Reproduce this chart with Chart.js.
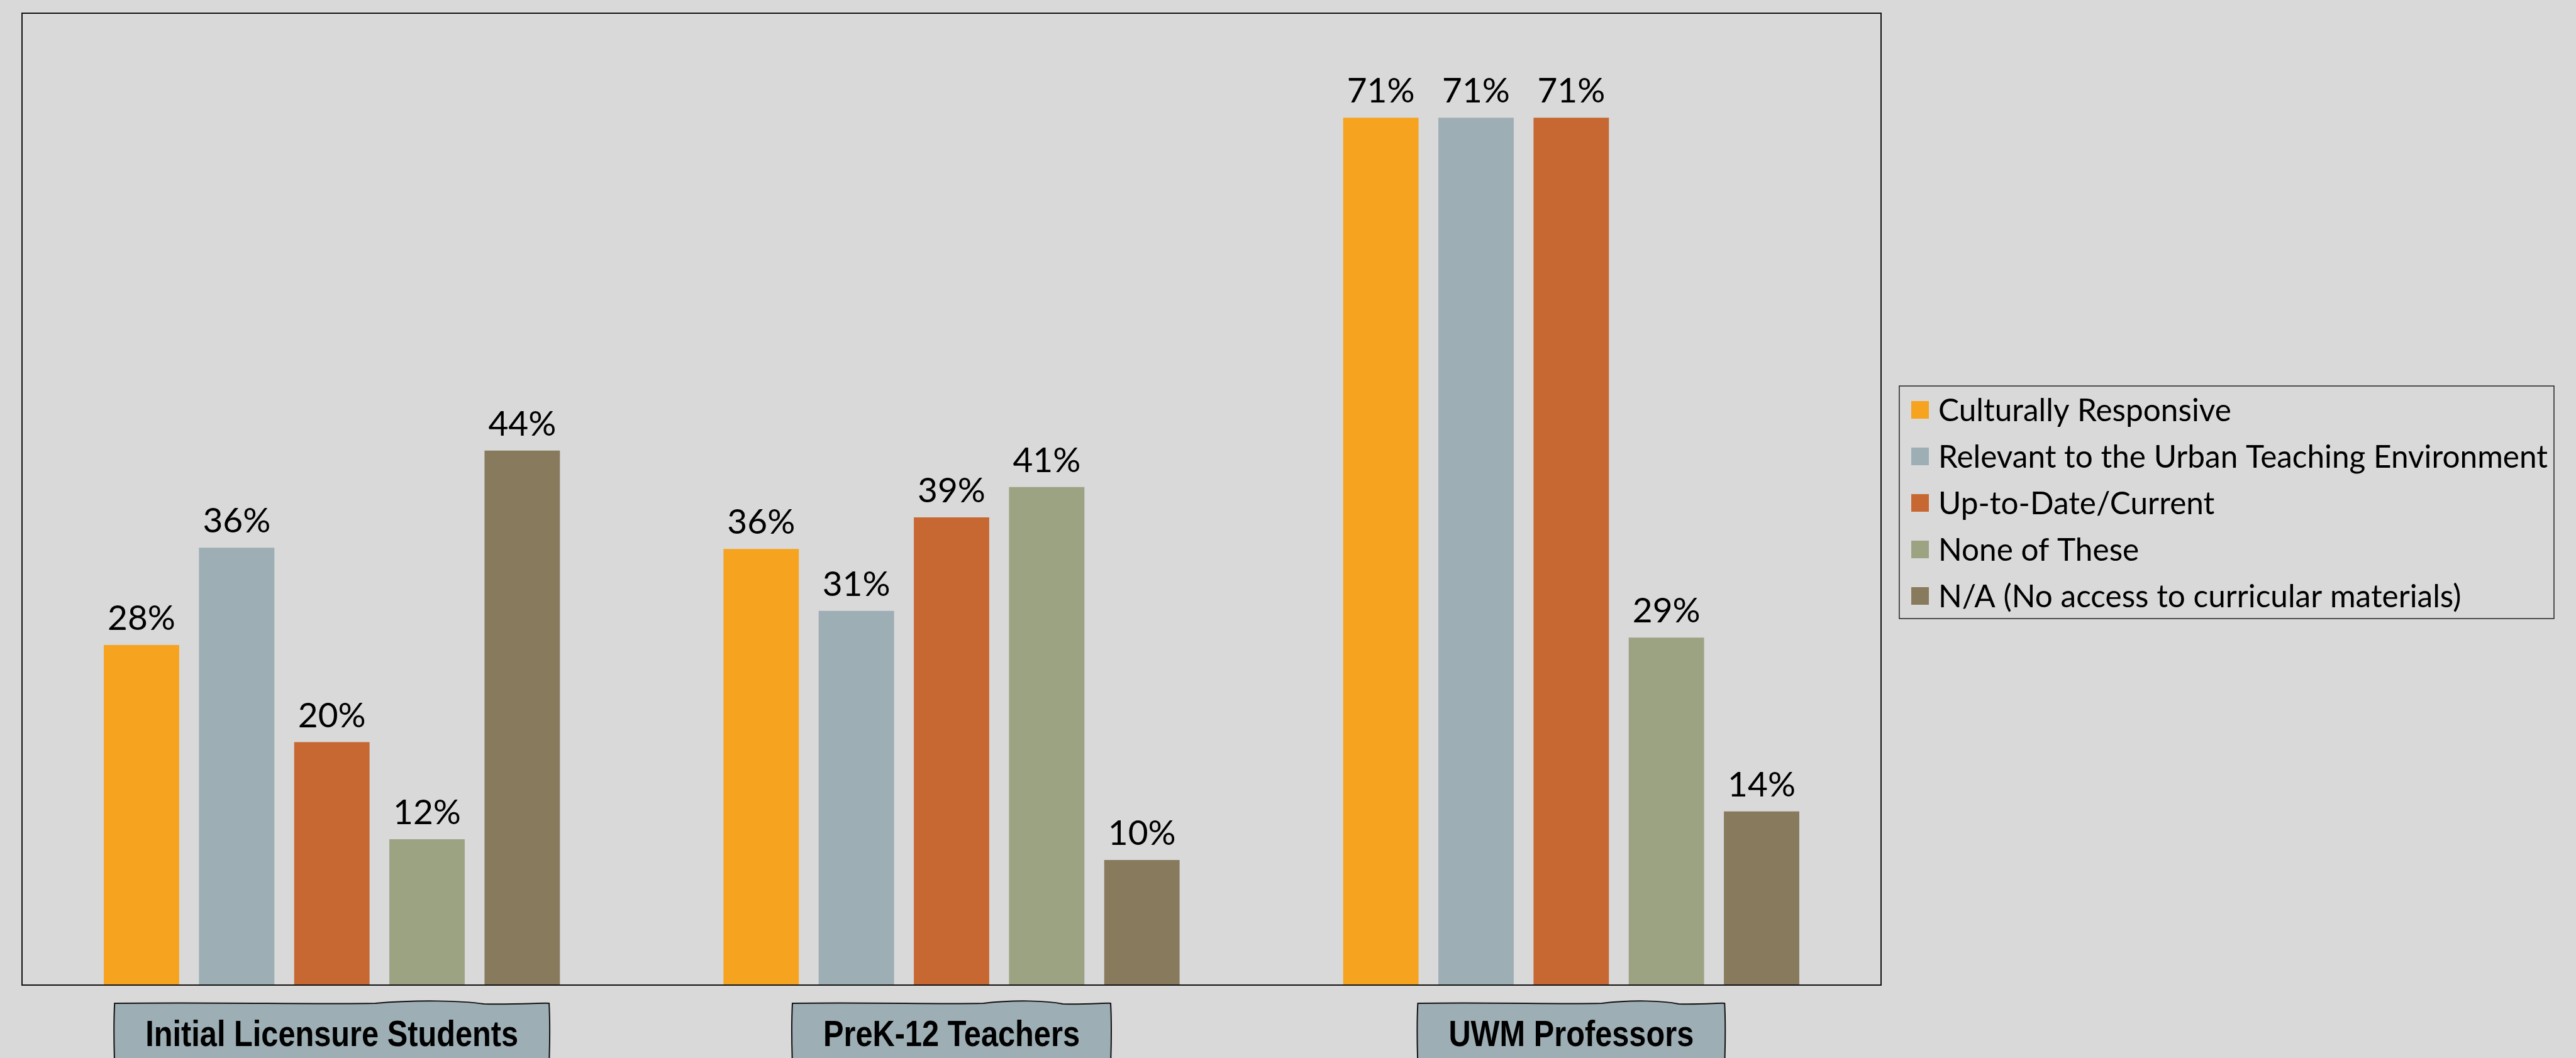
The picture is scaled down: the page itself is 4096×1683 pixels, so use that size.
<!DOCTYPE html>
<html lang="en">
<head>
    <meta charset="UTF-8">
    <title>Curricular Materials Chart</title>
    <script src="https://cdn.jsdelivr.net/npm/chart.js"></script>
    <style>
        html, body {
            margin: 0;
            padding: 0;
            background: #d9d9d9;
            overflow: hidden;
        }
        #wrap {
            width: 4096px;
            height: 1683px;
        }
    </style>
</head>
<body>
    <div id="wrap"><canvas id="materialsChart"></canvas></div>

    <script>
        // chart data (percent; labels show rounded values)
        const groups = ['Initial Licensure Students', 'PreK-12 Teachers', 'UWM Professors'];
        const seriesNames = [
            'Culturally Responsive',
            'Relevant to the Urban Teaching Environment',
            'Up-to-Date/Current',
            'None of These',
            'N/A (No access to curricular materials)'
        ];
        const culturallyResponsive = [28, 35.9, 71.4];
        const relevantUrban = [36, 30.8, 71.4];
        const upToDate = [20, 38.5, 71.4];
        const noneOfThese = [12, 41.0, 28.6];
        const notApplicable = [44, 10.3, 14.3];
        const seriesColors = ['#f6a31f', '#9daeb4', '#c76731', '#9ca382', '#877a5d'];

        const allValues = [culturallyResponsive, relevantUrban, upToDate, noneOfThese, notApplicable];

        // percent labels on top of each bar
        const valueLabels = {
            id: 'valueLabels',
            afterDatasetsDraw(chart) {
                const ctx = chart.ctx;
                ctx.save();
                ctx.font = '55px Lato';
                ctx.fillStyle = '#000';
                ctx.textAlign = 'center';
                ctx.textBaseline = 'alphabetic';
                chart.data.datasets.forEach((ds, i) => {
                    chart.getDatasetMeta(i).data.forEach((bar, j) => {
                        ctx.fillText(Math.round(ds.data[j]) + '%', bar.x, bar.y - 24);
                    });
                });
                ctx.restore();
            }
        };

        // frame around the plot, boxed legend, wavy category tags
        const decorations = {
            id: 'decorations',
            afterDraw(chart) {
                const ctx = chart.ctx;
                const area = chart.chartArea;
                ctx.save();

                // plot frame
                ctx.strokeStyle = '#111';
                ctx.lineWidth = 2;
                ctx.strokeRect(area.left, area.top, area.right - area.left, area.bottom - area.top);

                // legend box
                const lx = 3020, ly = 614, lw = 1041, lh = 370;
                ctx.lineWidth = 1.5;
                ctx.strokeStyle = '#222';
                ctx.strokeRect(lx, ly, lw, lh);
                ctx.font = '49.5px Lato';
                ctx.textBaseline = 'middle';
                ctx.textAlign = 'left';
                chart.data.datasets.forEach((ds, i) => {
                    const rowY = 638 + i * 74;
                    ctx.fillStyle = ds.backgroundColor;
                    ctx.fillRect(lx + 19, rowY, 28, 28);
                    ctx.fillStyle = '#000';
                    ctx.fillText(ds.label, lx + 62, rowY + 16);
                });

                // category tags under the axis (condensed bold text)
                const xScale = chart.scales.x;
                const squeeze = 0.84;
                ctx.font = 'bold 58px "Liberation Sans", Arial, sans-serif';
                ctx.textAlign = 'center';
                ctx.textBaseline = 'alphabetic';
                chart.data.labels.forEach((label, i) => {
                    const cx = xScale.getPixelForValue(i);
                    const tw = ctx.measureText(label).width * squeeze;
                    const x0 = cx - tw / 2 - 49;
                    const x1 = cx + tw / 2 + 49;
                    const top = 1595;
                    const bottom = chart.height + 10;
                    const w = x1 - x0;
                    ctx.beginPath();
                    ctx.moveTo(x0, top + 1);
                    ctx.bezierCurveTo(x0 + w * 0.25, top - 1, x0 + w * 0.45, top + 3, x0 + w * 0.6, top + 1);
                    ctx.bezierCurveTo(x0 + w * 0.7, top - 5, x0 + w * 0.8, top - 3, x0 + w * 0.85, top + 2);
                    ctx.bezierCurveTo(x0 + w * 0.92, top + 3, x1 - 4, top, x1, top + 1);
                    ctx.quadraticCurveTo(x1 + 2, top + 40, x1, bottom);
                    ctx.lineTo(x0, bottom);
                    ctx.quadraticCurveTo(x0 - 2, top + 40, x0, top + 1);
                    ctx.closePath();
                    ctx.fillStyle = '#9daeb4';
                    ctx.fill();
                    ctx.lineWidth = 2;
                    ctx.strokeStyle = '#111';
                    ctx.stroke();

                    ctx.save();
                    ctx.translate(cx, 1664);
                    ctx.scale(squeeze, 1);
                    ctx.fillStyle = '#000';
                    ctx.fillText(label, 0, 0);
                    ctx.restore();
                });

                ctx.restore();
            }
        };

        const ctx = document.getElementById('materialsChart').getContext('2d');
        new Chart(ctx, {
            type: 'bar',
            data: {
                labels: groups,
                datasets: seriesNames.map((name, i) => ({
                    label: name,
                    data: allValues[i],
                    backgroundColor: seriesColors[i],
                    borderWidth: 0,
                    categoryPercentage: 0.768,
                    barPercentage: 0.792
                }))
            },
            options: {
                responsive: true,
                maintainAspectRatio: false,
                animation: false,
                layout: {
                    padding: { left: 35, top: 21, right: 1105, bottom: 116 }
                },
                plugins: {
                    legend: { display: false },
                    tooltip: { enabled: false }
                },
                scales: {
                    x: { display: false },
                    y: { display: false, min: 0, max: 80 }
                }
            },
            plugins: [valueLabels, decorations]
        });
    </script>
</body>
</html>
